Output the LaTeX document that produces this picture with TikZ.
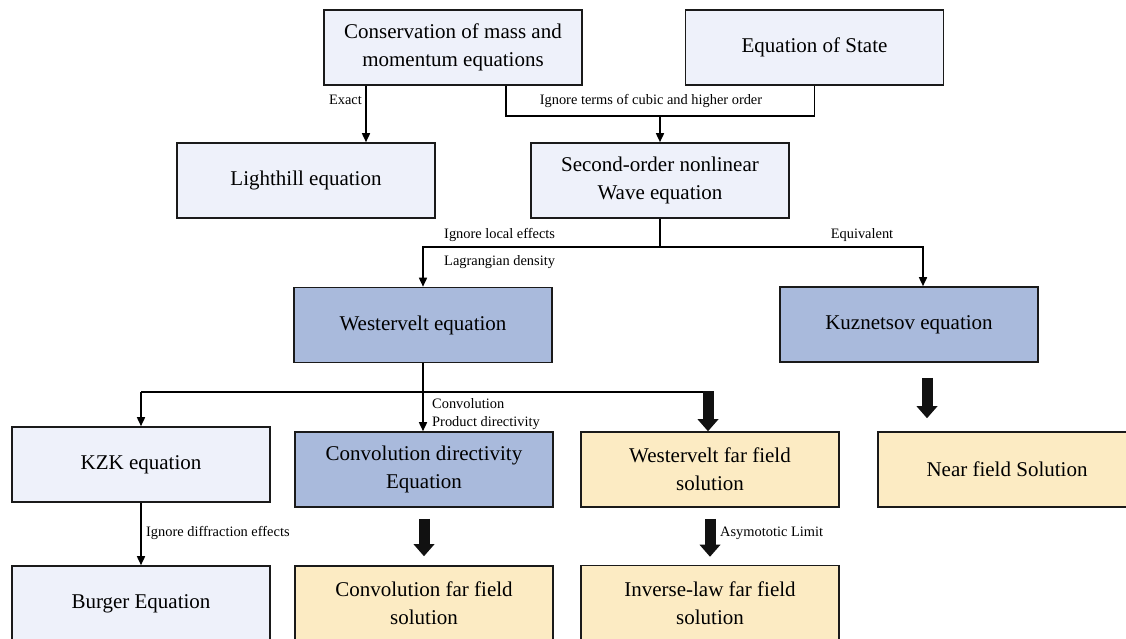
\documentclass[tikz,border=0pt]{standalone}
\usepackage{fontspec}
\setmainfont{Liberation Serif}
\usetikzlibrary{arrows.meta,calc}
\definecolor{boxlight}{HTML}{EEF1FA}
\definecolor{boxblue}{HTML}{A9BADC}
\definecolor{boxsand}{HTML}{FCEBC3}
\definecolor{edge}{HTML}{1A1A1A}
\definecolor{fatink}{HTML}{111111}
\begin{document}
\begin{tikzpicture}[x=1pt,y=-1pt,
  box/.style={draw=edge,line width=1.6pt,minimum width=258pt,minimum height=75pt,
    inner sep=0pt,align=center,font=\fontsize{21}{28}\selectfont},
  lightbox/.style={box,fill=boxlight},
  bluebox/.style={box,fill=boxblue},
  sandbox/.style={box,fill=boxsand},
  wire/.style={line width=1.6pt,draw=black},
  arr/.style={wire,-{Triangle[width=8pt,length=9pt]}},
  fat/.style={line width=11pt,draw=fatink,
    -{Triangle[width=21pt,length=12pt,line width=0pt]}},
  lbl/.style={font=\fontsize{14.4}{17}\selectfont,inner sep=0pt}
]
\useasboundingbox (0,0) rectangle (1126,639);
\fill[white] (0,0) rectangle (1126,639);
\clip (0,0) rectangle (1126,639);

% boxes
\node[lightbox] (cons)   at (453,47.5)   {Conservation of mass and\\momentum equations};
\node[lightbox] (eos)    at (814.5,47.5) {Equation of State};
\node[lightbox] (light)  at (306,180.5)  {Lighthill equation};
\node[lightbox] (second) at (660,180.5)  {Second-order nonlinear\\Wave equation};
\node[bluebox]  (west)   at (423,325)    {Westervelt equation};
\node[bluebox]  (kuz)    at (909,324.5)  {Kuznetsov equation};
\node[lightbox] (kzk)    at (141,464.5)  {KZK equation};
\node[bluebox]  (conv)   at (424,469.5)  {Convolution directivity\\Equation};
\node[sandbox]  (wff)    at (710,469.5)  {Westervelt far field\\solution};
\node[sandbox]  (near)   at (1007,469.5) {Near field Solution};
\node[lightbox] (burger) at (141,603.5)  {Burger Equation};
\node[sandbox]  (cff)    at (424,603.5)  {Convolution far field\\solution};
\node[sandbox]  (inv)    at (710,603)    {Inverse-law far field\\solution};

% routing guides
\coordinate (xExact) at (366,0);
\coordinate (xCons)  at (506,0);
\coordinate (xKuz)   at (923,0);
\coordinate (xFar)   at (708,0);
\coordinate (xNear)  at (927,0);
\coordinate (busA)   at (0,116);
\coordinate (busB)   at (0,247);
\coordinate (busC)   at (0,392);

% top level
\draw[arr] (cons.south -| xExact) -- (light.north -| xExact);
\draw[wire] (cons.south -| xCons) |- (eos.south |- busA) -- (eos.south);
\draw[arr] (second.north |- busA) -- (second.north);

% second-order split
\draw[arr] (second.south) |- (west.north |- busB) -- (west.north);
\draw[arr] (second.south) |- (xKuz |- busB) -- (kuz.north -| xKuz);

% Westervelt split
\draw[wire] (kzk.north |- busC) -- (xFar |- busC);
\draw[wire] (west.south) -- (west.south |- busC);
\draw[arr] (kzk.north |- busC) -- (kzk.north);
\draw[arr] (west.south |- busC) -- (conv.north -| west.south);
\draw[fat] ($(xFar |- busC)+(0,-0.8)$) -- (wff.north -| xFar);

% lower level
\draw[arr] (kzk.south) -- (burger.north);
\draw[fat] ($(conv.south)+(0,11)$) -- ($(cff.north)+(0,-9)$);
\draw[fat] ($(wff.south)+(0,11)$) -- ($(inv.north)+(0,-8)$);
\draw[fat] ($(kuz.south -| xNear)+(0,15)$) -- ($(near.north -| xNear)+(0,-13)$);

% connector labels
\node[lbl,anchor=east] (lExact) at (362,100) {Exact};
\node[lbl] (lCubic) at (651,101) {Ignore terms of cubic and higher order};
\node[lbl,anchor=west] (lLocal) at (444,235) {Ignore local effects};
\node[lbl,anchor=west] (lLag) at (444,262) {Lagrangian density};
\node[lbl] (lEquiv) at (862,235) {Equivalent};
\node[lbl,anchor=west] (lConv) at (432,404) {Convolution};
\node[lbl,anchor=west] (lProd) at (432,423) {Product directivity};
\node[lbl,anchor=west] (lDiff) at (146,533) {Ignore diffraction effects};
\node[lbl,anchor=west] (lAsym) at (720,533) {Asymototic Limit};
\end{tikzpicture}
\end{document}
